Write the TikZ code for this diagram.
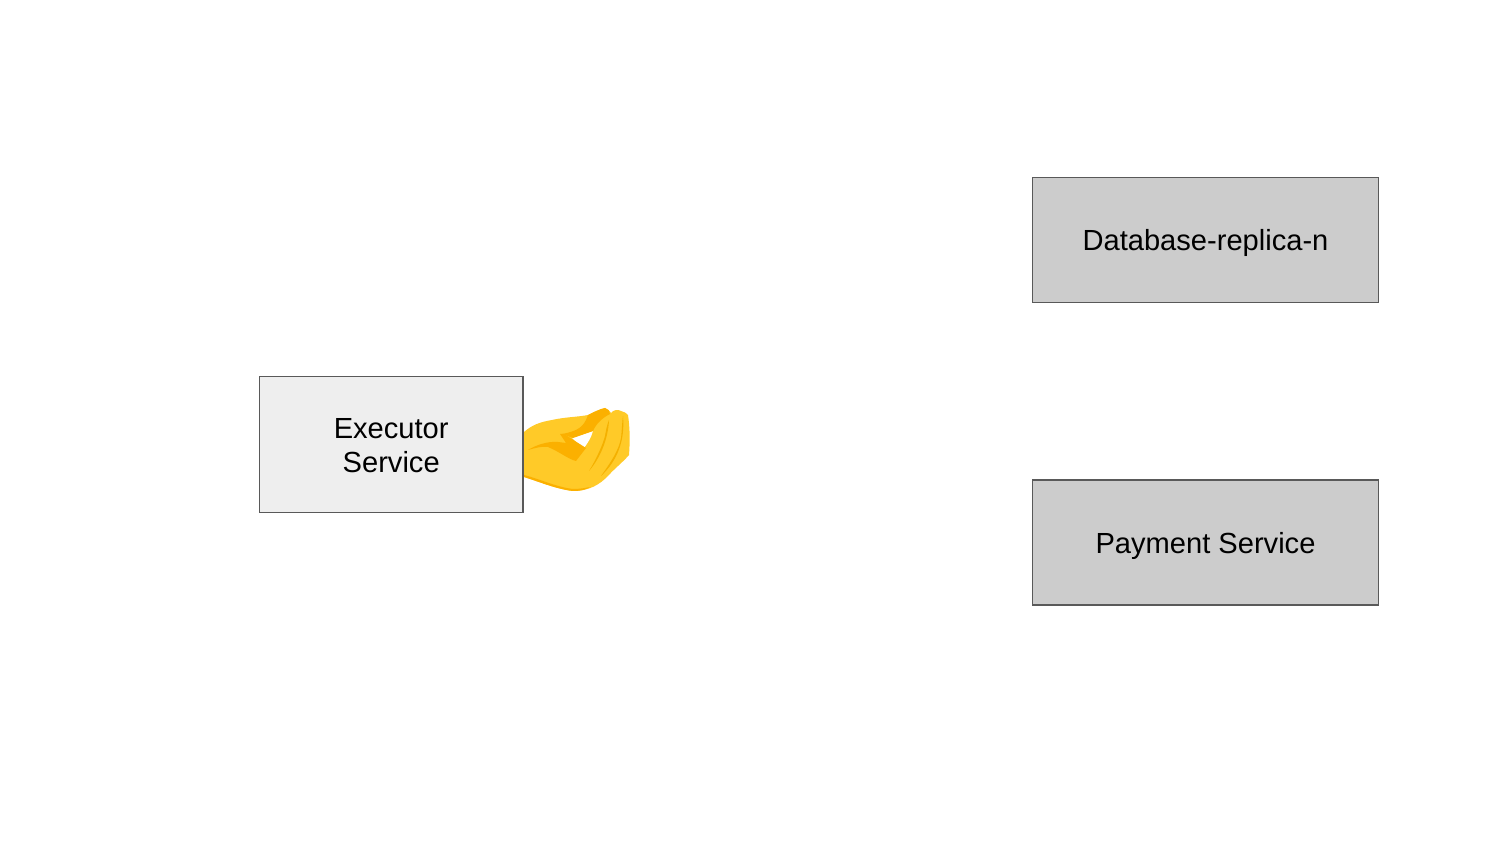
\documentclass[tikz,border=0pt]{standalone}
\usepackage{fontspec}
\setmainfont{Liberation Sans}
\definecolor{lightbox}{HTML}{EEEEEE}
\definecolor{graybox}{HTML}{CCCCCC}
\definecolor{boxline}{HTML}{595959}
\definecolor{handmain}{HTML}{FFCA28}
\definecolor{handdark}{HTML}{F4B000}
\definecolor{handdeep}{HTML}{FBB000}
\begin{document}
\begin{tikzpicture}[x=0.5pt,y=-0.5pt,
  svcbox/.style={draw=boxline,line width=0.7pt,minimum width=173pt,minimum height=62.6pt,inner sep=0pt,
    font=\fontsize{14.55pt}{17pt}\selectfont,align=center,anchor=center,fill=graybox,text=black,
    text height=14pt,text depth=3pt}]
\useasboundingbox (0,0) rectangle (1500,844);
\fill[white] (0,0) rectangle (1500,844);
% hand
\fill[handmain] (524,432) .. controls (532,425) and (540,422) .. (552,420)
  .. controls (565,417) and (578,417) .. (588,415)
  .. controls (594,412) and (600,409) .. (605,408)
  .. controls (608,409) and (610,411) .. (611,413)
  .. controls (613,410) and (618,409) .. (621,411)
  .. controls (624,412) and (627,413) .. (628,415)
  .. controls (630,428) and (630,442) .. (629,455)
  .. controls (622,463) and (614,469) .. (608,476)
  .. controls (600,484) and (590,491) .. (573,491)
  .. controls (556,489) and (540,482) .. (524,477) -- cycle;
\fill[handdeep] (524,475) .. controls (540,479) and (556,487) .. (573,489)
  .. controls (580,489) and (585,488) .. (590,487)
  .. controls (585,490) and (580,491) .. (573,491)
  .. controls (556,489) and (540,482) .. (524,477) -- cycle;
\fill[white] (572,438) -- (593,431) .. controls (591,438) and (588,443) .. (583,449) -- cycle;
\fill[handdeep] (562,434) .. controls (578,431) and (584,427) .. (588,415)
  .. controls (594,412) and (600,409) .. (605,408)
  .. controls (608,409) and (610,411) .. (610,414)
  .. controls (602,418) and (596,424) .. (593,431)
  -- (573,438) -- cycle;
\fill[handdeep] (560,434) -- (564,434) -- (586,448) -- (576,461)
  .. controls (568,459) and (560,452) .. (548,447)
  .. controls (542,446) and (535,448) .. (528,450)
  .. controls (536,445) and (548,441) .. (558,442)
  -- (566,443) -- cycle;
\fill[handdark] (609,420) .. controls (608,440) and (600,458) .. (589,471)
  .. controls (597,458) and (603,444) .. (605,436)
  .. controls (606,430) and (607,425) .. (609,420) -- cycle;
\fill[handdark] (623,416) .. controls (625,440) and (618,460) .. (601,476)
  .. controls (611,462) and (619,450) .. (621,438)
  .. controls (622,430) and (622,422) .. (623,416) -- cycle;
% boxes
\node[svcbox,fill=lightbox,minimum width=131.8pt,minimum height=68pt,text height=31.5pt,text depth=3pt] (executor) at (391.2,444.5) {Executor\\Service};
\node[svcbox] (replica) at (1205.5,240) {Database-replica-n};
\node[svcbox] (payment) at (1205.5,542.5) {Payment Service};
\end{tikzpicture}
\end{document}
